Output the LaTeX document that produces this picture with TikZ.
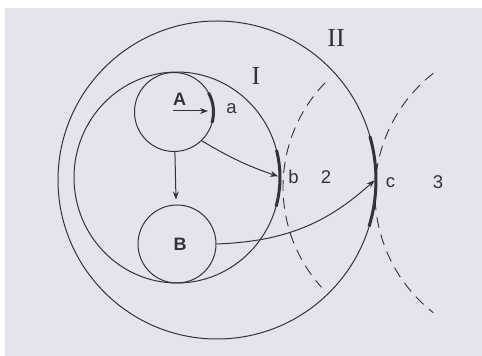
\documentclass[tikz,border=0pt]{standalone}
\usepackage{fontspec}
\setmainfont{Liberation Sans}
\newfontfamily\romanfont{Liberation Serif}
\usetikzlibrary{arrows.meta}
\definecolor{PaperGray}{HTML}{E4E4EC}
\definecolor{InkGray}{HTML}{323238}

\begin{document}
\begin{tikzpicture}[x=1pt, y=1pt, line width=1pt, color=InkGray,
    every node/.style={font=\fontsize{18.5}{21}\selectfont, inner sep=1pt},
    ring/.style={draw, circle, minimum size=79pt, inner sep=0pt},
    thickarc/.style={line width=3pt},
    wavefront/.style={line width=0.9pt, dash pattern=on 11pt off 7pt},
    flow/.style={-{Stealth[length=8pt, width=6pt]}, shorten >=2pt},
    heavy/.style={font=\bfseries\fontsize{18}{21}\selectfont},
    roman/.style={font=\romanfont\fontsize{26}{28}\selectfont}]
    \useasboundingbox (0,0) rectangle (482,356);
    % paper
    \fill[white] (0,0) rectangle (482,356);
    \fill[PaperGray] (5,0) rectangle (482,348);
    % zones I and II
    \draw (217,176) circle[radius=159pt];
    \draw (177,178.5) ellipse[x radius=103pt, y radius=105.5pt];
    % wave fronts
    \draw[wavefront] (433,169) ++(136:150pt) arc[start angle=136, end angle=222, radius=150pt];
    \draw[wavefront] (527,163) ++(128:152pt) arc[start angle=128, end angle=232, radius=152pt];
    % cells
    \node[ring] (A) at (174,244) {};
    \node[ring, minimum size=78pt] (B) at (177,112) {};
    % thick marks a, b, c
    \draw[thickarc] (A.center) ++(-16:39.5pt) arc[start angle=-16, end angle=29, radius=39.5pt];
    \draw[thickarc] (177,178.5) ++({103*cos(-16)},{105.5*sin(-16)}) arc[start angle=-16, end angle=15, x radius=103pt, y radius=105.5pt];
    \draw[thickarc] (217,176) ++(-17:159pt) arc[start angle=-17, end angle=16, radius=159pt];
    \coordinate (Atail) at (173,245);
    \coordinate (Ahead) at (208,245);
    \coordinate (bmid) at (280,179);
    \coordinate (cmid) at (376,177);
    % labels
    \node[heavy] (Alab) at (179.5,257) {A};
    \node[heavy] (Blab) at (180,112) {B};
    \node (alab) at (231.5,247) {a};
    \node (blab) at (293.5,179) {b};
    \node (clab) at (390.5,173) {c};
    \node (two) at (326,178.5) {2};
    \node (three) at (438,173.5) {3};
    \node[roman] (zoneI) at (256,280) {I};
    \node[roman] (zoneII) at (336,318.5) {II};
    % arrows
    \draw[flow, shorten >=0pt] (Atail) -- (Ahead);
    \draw[flow, shorten >=5pt] (A) -- (B);
    \draw[flow] (A.-46) to[bend right=6] (bmid);
    \draw[flow] (B.east) to[bend right=20] (cmid);
\end{tikzpicture}
\end{document}
